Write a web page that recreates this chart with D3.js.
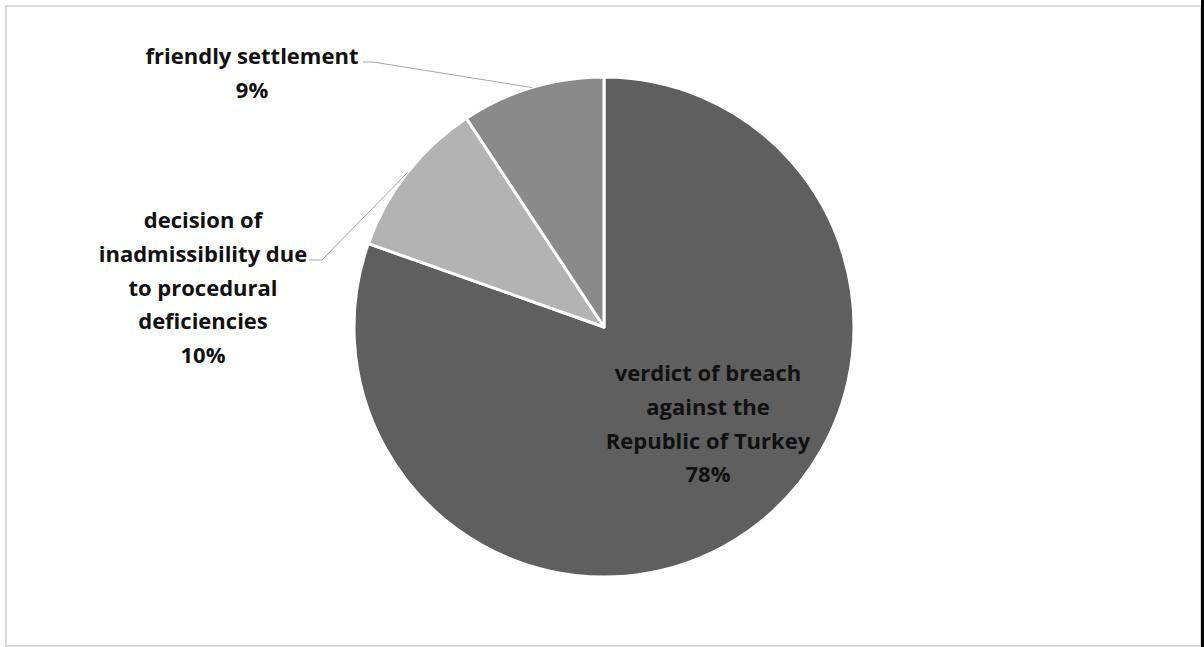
<!DOCTYPE html>
<html>
<head>
<meta charset="utf-8">
<script src="https://cdn.jsdelivr.net/npm/d3@7"></script>
<style>
  body { margin: 0; background: #fff; }
  svg { display: block; }
  .lbl { font-family: "Open Sans", Lato, sans-serif; font-weight: bold; font-size: 22px; fill: #111; }
</style>
</head>
<body>
<div id="chart"></div>
<script>
// pie chart - outcome of applications
const width = 1204,
    height = 647;

const categories = [
    ["verdict of breach", "against the", "Republic of Turkey"],
    ["decision of", "inadmissibility due", "to procedural", "deficiencies"],
    ["friendly settlement"]
];
const values = [78, 10, 9];
const pctLabels = ["78%", "10%", "9%"];
const colors = ["#5f5f5f", "#b3b3b3", "#8a8a8a"];

const cx = 604, cy = 327, r = 250;

const svg = d3.select("#chart")
    .append("svg")
    .attr("width", width)
    .attr("height", height);

// frame
svg.append("rect")
    .attr("x", 6).attr("y", 6)
    .attr("width", 1195).attr("height", 640)
    .attr("fill", "none")
    .attr("stroke", "#d9d9d9")
    .attr("stroke-width", 2);
svg.append("rect")
    .attr("x", 1201).attr("y", 0)
    .attr("width", 3).attr("height", height)
    .attr("fill", "#000");

const data = values.map((v, i) => ({ value: v, lines: categories[i], pct: pctLabels[i], color: colors[i] }));

const pie = d3.pie()
    .sort(null)
    .value(d => d.value);

const arc = d3.arc().innerRadius(0).outerRadius(r);
const edge = d3.arc().innerRadius(r).outerRadius(r); // centroid on the rim, for leader lines

const arcs = pie(data);

const g = svg.append("g").attr("transform", `translate(${cx},${cy})`);

g.selectAll("path.slice")
    .data(arcs)
    .join("path")
    .attr("class", "slice")
    .attr("d", arc)
    .attr("fill", d => d.data.color)
    .attr("stroke", "#fff")
    .attr("stroke-width", 3)
    .attr("stroke-linejoin", "round");

// label placement (center x, first line y) and leader line start
const labelPos = [
    { x: 708, y: 372, leader: null },
    { x: 203, y: 219, leader: [[309, 260], [322, 260]] },
    { x: 252, y: 55, leader: [[363, 62], [373, 62]] }
];
const lineH = 33.8;

arcs.forEach((a, i) => {
    const p = labelPos[i];
    const t = svg.append("text")
        .attr("class", "lbl")
        .attr("text-anchor", "middle")
        .attr("dominant-baseline", "central");
    a.data.lines.concat([a.data.pct]).forEach((s, k) => {
        t.append("tspan")
            .attr("x", p.x)
            .attr("y", p.y + k * lineH)
            .text(s);
    });
    if (p.leader) {
        const c = edge.centroid(a);
        const pts = p.leader.concat([[cx + c[0], cy + c[1]]]);
        svg.append("path")
            .attr("d", d3.line()(pts))
            .attr("fill", "none")
            .attr("stroke", "#a6a6a6")
            .attr("stroke-width", 1);
    }
});
</script>
</body>
</html>
